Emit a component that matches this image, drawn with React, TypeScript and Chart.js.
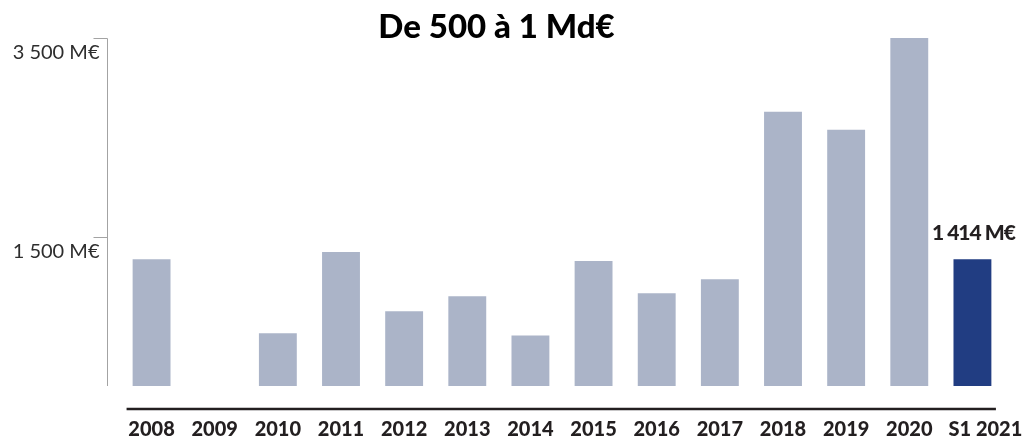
import React, { useEffect, useRef } from "react";
import { Chart, registerables } from "chart.js";

Chart.register(...registerables);

const categories = ["2008", "2009", "2010", "2011", "2012", "2013", "2014", "2015", "2016", "2017", "2018", "2019", "2020", "S1 2021"];
const values = [1276, 0, 530, 1347, 751, 903, 509, 1256, 933, 1074, 2759, 2577, 3500, 1276];
const barColors = ["#abb4c8", "#abb4c8", "#abb4c8", "#abb4c8", "#abb4c8", "#abb4c8", "#abb4c8", "#abb4c8", "#abb4c8", "#abb4c8", "#abb4c8", "#abb4c8", "#abb4c8", "#213d82"];
const yTickValues = [1500, 3500];
const yTickLabels = ["1 500 M€", "3 500 M€"];
const titleText = "De 500 à 1 Md€";
const highlightIndex = 13;
const highlightLabel = "1 414 M€";

const FONT = "Lato, 'Noto Sans', sans-serif";

const overlayPlugin = {
  id: "overlay",
  afterDraw(chart: any) {
    const { ctx, chartArea, scales } = chart;
    const x = scales.x;
    const y = scales.y;
    ctx.save();

    // Y axis line
    const axisX = Math.round(chartArea.left - 13.5) + 0.5;
    const yTop = y.getPixelForValue(yTickValues[yTickValues.length - 1]);
    const yBottom = y.getPixelForValue(0);
    ctx.strokeStyle = "#a3a3a3";
    ctx.lineWidth = 1;
    ctx.beginPath();
    ctx.moveTo(axisX, Math.round(yTop) + 0.5);
    ctx.lineTo(axisX, yBottom);
    ctx.stroke();

    // Y ticks
    ctx.font = `400 20px ${FONT}`;
    ctx.fillStyle = "#2e2e2e";
    ctx.textAlign = "right";
    ctx.textBaseline = "middle";
    yTickValues.forEach((v, i) => {
      const py = Math.round(y.getPixelForValue(v)) + 0.5;
      ctx.beginPath();
      ctx.moveTo(axisX - 14, py);
      ctx.lineTo(axisX, py);
      ctx.stroke();
      ctx.fillText(yTickLabels[i], axisX - 8, py + 14);
    });

    // X axis line
    const xLineY = chartArea.bottom + 23;
    ctx.strokeStyle = "#231f20";
    ctx.lineWidth = 2.5;
    ctx.beginPath();
    ctx.moveTo(x.getPixelForValue(0) - 25, xLineY);
    ctx.lineTo(x.getPixelForValue(categories.length - 1) + 23.5, xLineY);
    ctx.stroke();

    // X labels
    ctx.font = `900 20px ${FONT}`;
    ctx.fillStyle = "#231f20";
    ctx.textAlign = "center";
    ctx.textBaseline = "middle";
    categories.forEach((c, i) => {
      const shift = i === categories.length - 1 ? 13 : 0;
      ctx.fillText(c, x.getPixelForValue(i) + shift, chartArea.bottom + 44);
    });

    // Highlight label
    const hx = x.getPixelForValue(highlightIndex);
    const hy = y.getPixelForValue(values[highlightIndex]);
    ctx.font = `900 21px ${FONT}`;
    (ctx as any).letterSpacing = "-1px";
    ctx.fillText(highlightLabel, hx + 1, hy - 26);
    (ctx as any).letterSpacing = "0px";

    // Title
    ctx.font = `900 33px ${FONT}`;
    ctx.fillStyle = "#000000";
    ctx.fillText(titleText, 496.5, 27);

    ctx.restore();
  },
};

export default function App() {
  const canvasRef = useRef<HTMLCanvasElement | null>(null);

  useEffect(() => {
    document.body.style.margin = "0";
    const canvas = canvasRef.current;
    if (!canvas) return;
    const chart = new Chart(canvas, {
      type: "bar",
      data: {
        labels: categories,
        datasets: [
          {
            data: values,
            backgroundColor: barColors,
            borderWidth: 0,
            barPercentage: 0.6,
            categoryPercentage: 1,
          },
        ],
      },
      options: {
        animation: false,
        responsive: true,
        maintainAspectRatio: false,
        layout: { padding: { left: 120, right: 23, top: 38, bottom: 53 } },
        plugins: {
          legend: { display: false },
          title: { display: false },
          tooltip: { enabled: false },
        },
        scales: {
          x: { display: false },
          y: { display: false, min: 0, max: 3500 },
        },
      },
      plugins: [overlayPlugin],
    });
    return () => chart.destroy();
  }, []);

  return (
    <div style={{ position: "absolute", left: 0, top: 0, width: 1027, height: 439, background: "#ffffff" }}>
      <canvas ref={canvasRef} />
    </div>
  );
}
